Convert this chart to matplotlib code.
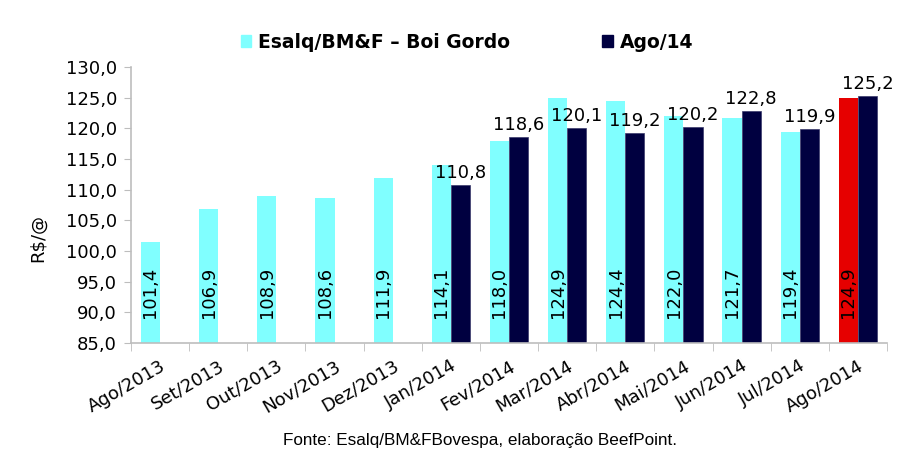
import numpy as np
import matplotlib
matplotlib.use('Agg')
from matplotlib import pyplot as plt
from matplotlib.patches import Patch

# data
months = ['Ago/2013', 'Set/2013', 'Out/2013', 'Nov/2013', 'Dez/2013', 'Jan/2014',
          'Fev/2014', 'Mar/2014', 'Abr/2014', 'Mai/2014', 'Jun/2014', 'Jul/2014', 'Ago/2014']
esalq = [101.4, 106.9, 108.9, 108.6, 111.9, 114.1, 118.0, 124.9, 124.4, 122.0, 121.7, 119.4, 124.9]
ago14 = [None, None, None, None, None, 110.8, 118.6, 120.1, 119.2, 120.2, 122.8, 119.9, 125.2]

cyan = '#80FFFF'
navy = '#000040'
red = '#E60000'
grey = '#BDBDBD'

def fmt(v):
    return ('%.1f' % v).replace('.', ',')

plt.rcParams['font.family'] = 'DejaVu Sans'
fs = 13

fig = plt.figure(figsize=(9.18, 4.73), dpi=100)
ax = fig.add_axes([131/918, 1 - 343/473, (887 - 131)/918, (343 - 67)/473])

x = np.arange(len(months))
w = 0.33

colors = [cyan] * (len(months) - 1) + [red]
ax.bar(x - w/2, [v - 85 for v in esalq], w, bottom=85, color=colors, edgecolor='none')

dark_x = [x[i] + w/2 for i, v in enumerate(ago14) if v is not None]
dark_v = [v for v in ago14 if v is not None]
ax.bar(dark_x, [v - 85 for v in dark_v], w, bottom=85, color=navy, edgecolor='#3a3a6a', linewidth=0.5)

for xi, v in zip(x, esalq):
    ax.text(xi - w/2, 89.0, fmt(v), rotation=90, ha='center', va='bottom', fontsize=fs)
for xi, v in zip(dark_x, dark_v):
    ax.text(xi, v + 0.5, fmt(v), ha='center', va='bottom', fontsize=fs)

ax.set_xlim(-0.5, len(months) - 0.5)
ax.set_ylim(85, 130)
ax.set_yticks(np.arange(85, 131, 5))
ax.set_yticklabels([fmt(t) for t in np.arange(85, 131, 5)], fontsize=fs)

ax.set_xticks(x)
ax.set_xticklabels(months, rotation=30, ha='right', rotation_mode='anchor', fontsize=fs)
ax.tick_params(axis='x', length=0, pad=10)
ax.set_xticks(np.arange(-0.5, len(months), 1), minor=True)
ax.tick_params(axis='x', which='minor', length=6, color=grey)
ax.tick_params(axis='y', length=5, color=grey, pad=5)

for s in ['top', 'right']:
    ax.spines[s].set_visible(False)
for s in ['left', 'bottom']:
    ax.spines[s].set_color(grey)
    ax.spines[s].set_linewidth(1.2)

ax.set_ylabel('R$/@', fontsize=fs)
ax.yaxis.set_label_coords((47 - 131)/756, 0.38)

handles = [Patch(color=cyan, label='Esalq/BM&F \u2013 Boi Gordo'),
           Patch(color=navy, label='Ago/14')]
fig.legend(handles=handles, loc='center', bbox_to_anchor=(467/918, 1 - 42/473), ncol=2,
           frameon=False, prop={'weight': 'bold', 'size': 13.5},
           handlelength=0.55, handleheight=0.55, handletextpad=0.4, columnspacing=4.9)

fig.text(480/918, 1 - 440/473, 'Fonte: Esalq/BM&FBovespa, elaboração BeefPoint.',
         ha='center', va='center', fontsize=12.3, family='Liberation Sans')

fig.savefig('out.png', dpi=100)
